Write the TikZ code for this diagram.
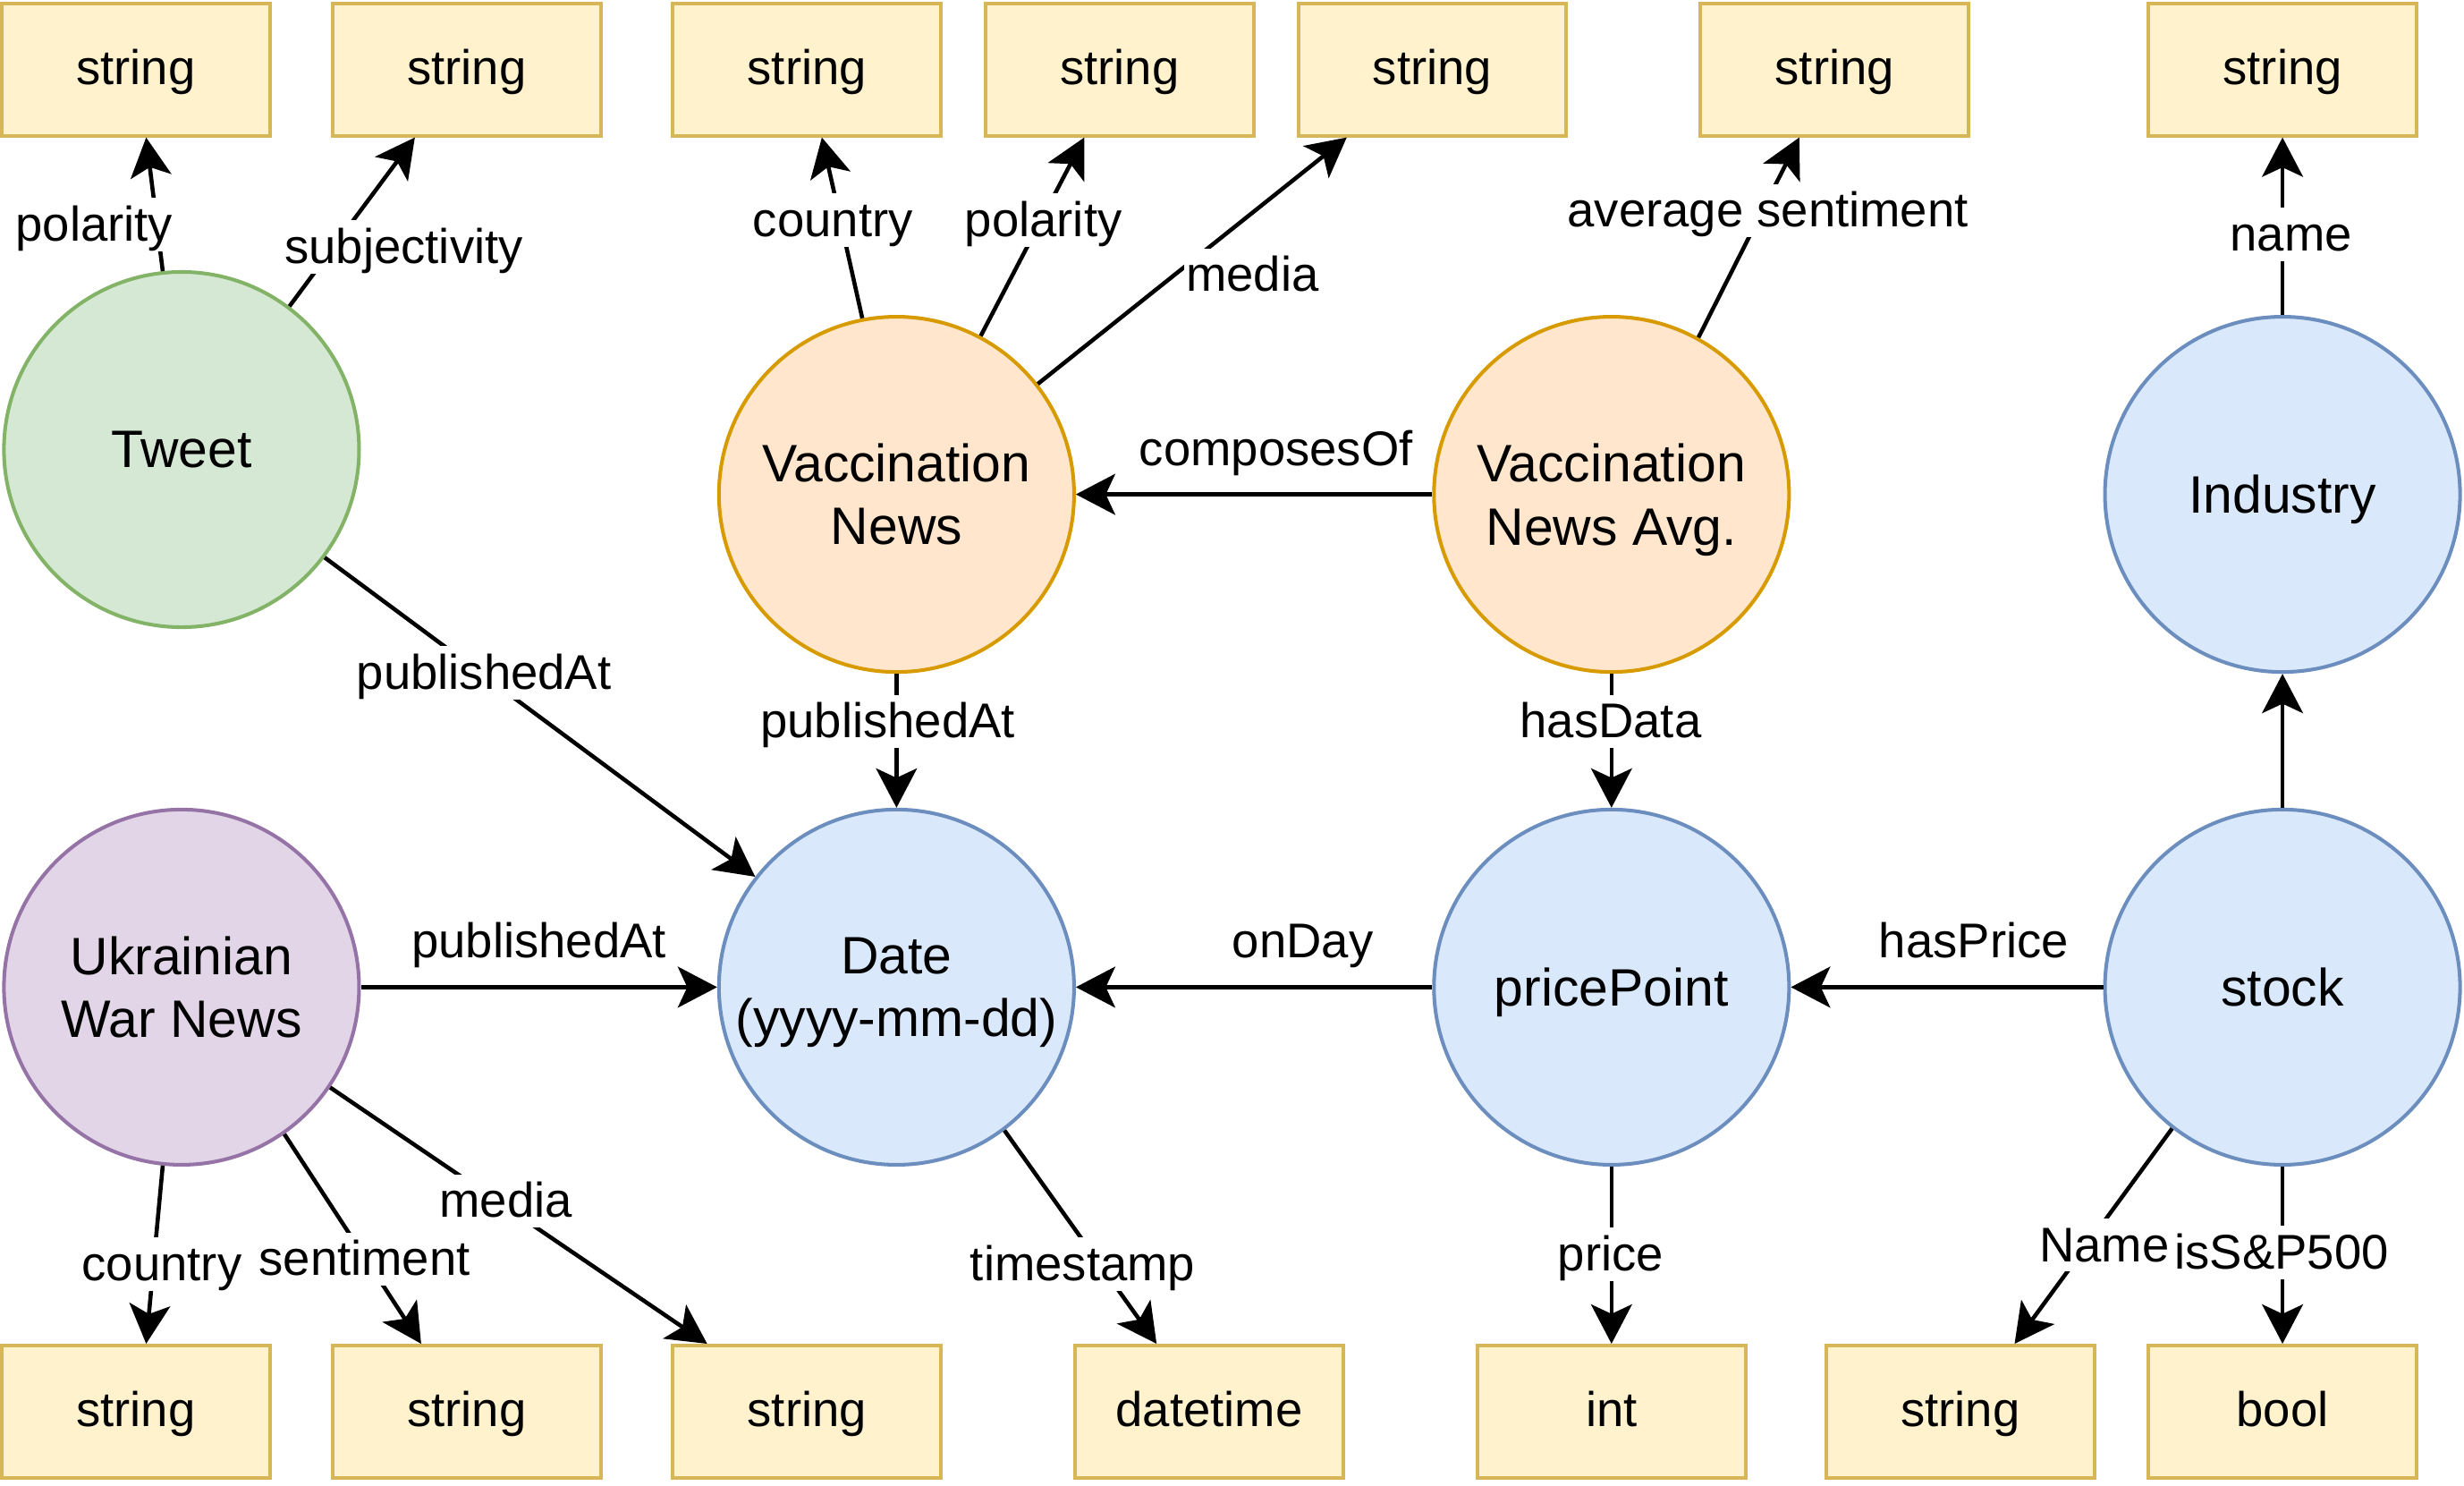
\documentclass[tikz,border=0pt]{standalone}
\usepackage{fontspec}
\setmainfont{Liberation Sans}
\usetikzlibrary{arrows.meta}
\definecolor{grnF}{HTML}{D5E8D4}\definecolor{grnD}{HTML}{82B366}
\definecolor{orgF}{HTML}{FFE6CC}\definecolor{orgD}{HTML}{D79B00}
\definecolor{bluF}{HTML}{DAE8FC}\definecolor{bluD}{HTML}{6C8EBF}
\definecolor{purF}{HTML}{E1D5E7}\definecolor{purD}{HTML}{9673A6}
\definecolor{boxF}{HTML}{FFF2CC}\definecolor{boxD}{HTML}{D6B656}
\newcommand\nodepthtxt[1]{\setbox0\hbox{#1}\dp0=0pt\box0}
\begin{document}
\begin{tikzpicture}[x=1pt,y=-1pt,
  circ/.style={circle, minimum size=226pt, line width=2.3pt, inner sep=0pt, align=center, font=\fontsize{33.5}{40}\selectfont},
  green/.style={circ, draw=grnD, fill=grnF},
  orange/.style={circ, draw=orgD, fill=orgF},
  blue/.style={circ, draw=bluD, fill=bluF},
  purple/.style={circ, draw=purD, fill=purF},
  typebox/.style={draw=boxD, fill=boxF, line width=2.3pt, minimum width=170.6pt, minimum height=84pt, inner sep=0pt, font=\fontsize{31}{37}\selectfont, text height=24pt, text depth=5.2pt},
  edge/.style={line width=2.6pt, -{Stealth[length=25pt,width=26pt,inset=6pt]}},
  lbl/.style={fill=white, inner sep=1.5pt, font=\fontsize{31}{37}\selectfont, text height=26pt, text depth=5pt}
]
\useasboundingbox (0,0) rectangle (1568,944.8);
% type boxes top
\node[typebox] (t1) at (86.5,44.3) {string};
\node[typebox] (t2) at (297,44.3) {string};
\node[typebox] (t3) at (513.5,44.3) {string};
\node[typebox] (t4) at (712.5,44.3) {string};
\node[typebox] (t5) at (911.5,44.3) {string};
\node[typebox] (t6) at (1167.5,44.3) {string};
\node[typebox] (t7) at (1452.5,44.3) {string};
% type boxes bottom
\node[typebox] (b1) at (86.5,898) {string};
\node[typebox] (b2) at (297,898) {string};
\node[typebox] (b3) at (513.5,898) {string};
\node[typebox] (b4) at (769.5,898) {datetime};
\node[typebox] (b5) at (1025.5,898) {int};
\node[typebox] (b6) at (1247.5,898) {string};
\node[typebox] (b7) at (1452.5,898) {bool};
% circles
\node[green] (tweet) at (115.5,286) {Tweet};
\node[orange] (vn) at (570.5,314.5) {Vaccination\\News};
\node[orange] (vna) at (1025.5,314.5) {Vaccination\\\nodepthtxt{News Avg.}};
\node[blue] (ind) at (1452.5,314.5) {\nodepthtxt{Industry}};
\node[purple] (uwn) at (115.5,628) {Ukrainian\\War News};
\node[blue] (date) at (570.5,628) {Date\\\nodepthtxt{(yyyy-mm-dd)}};
\node[blue] (pp) at (1025.5,628) {\nodepthtxt{pricePoint}};
\node[blue] (stock) at (1452.5,628) {stock};
% edges
\draw[edge] (tweet.96) -- ([xshift=6.5pt]t1.south);
\draw[edge] (tweet.53) -- ([xshift=-33pt]t2.south);
\draw[edge] (vn.101.5) -- ([xshift=9.5pt]t3.south);
\draw[edge] (vn.62.3) -- ([xshift=-22.5pt]t4.south);
\draw[edge] (vn.38.3) -- ([xshift=-54.5pt]t5.south);
\draw[edge] (vna.61.9) -- ([xshift=-22.5pt]t6.south);
\draw[edge] (ind.north) -- (t7.south);
\draw[edge] (vna.west) -- (vn.east);
\draw[edge] (tweet.-37) -- (date.142.3);
\draw[edge] (vn.south) -- (date.north);
\draw[edge] (vna.south) -- (pp.north);
\draw[edge] (stock.north) -- (ind.south);
\draw[edge] (uwn.east) -- (date.west);
\draw[edge] (pp.west) -- (date.east);
\draw[edge] (stock.west) -- (pp.east);
\draw[edge] (uwn.264) -- ([xshift=6.5pt]b1.north);
\draw[edge] (uwn.-55.7) -- ([xshift=-29pt]b2.north);
\draw[edge] (uwn.-34.7) -- ([xshift=-63.5pt]b3.north);
\draw[edge] (date.-53.5) -- ([xshift=-33.5pt]b4.north);
\draw[edge] (pp.south) -- (b5.north);
\draw[edge] (stock.232.7) -- ([xshift=34.5pt]b6.north);
\draw[edge] (stock.south) -- (b7.north);
% labels
\node[lbl] (l1) at (60,143) {polarity};
\node[lbl] (l2) at (257,157) {subjectivity};
\node[lbl] (l3) at (530,140) {country};
\node[lbl] (l4) at (664,140) {polarity};
\node[lbl] (l5) at (797,175) {media};
\node[lbl] (l6) at (1125,134) {average sentiment};
\node[lbl] (l7) at (1458,149) {name};
\node[lbl] (l8) at (812,286) {composesOf};
\node[lbl] (l9) at (308,428) {publishedAt};
\node[lbl] (l10) at (565,459) {publishedAt};
\node[lbl] (l11) at (1025,459) {hasData};
\node[lbl] (l12) at (343,599) {publishedAt};
\node[lbl] (l13) at (829,599) {onDay};
\node[lbl] (l14) at (1256,599) {hasPrice};
\node[lbl] (l15) at (322,764) {media};
\node[lbl] (l16) at (103,804) {country};
\node[lbl] (l17) at (232,801) {sentiment};
\node[lbl] (l18) at (689,804) {timestamp};
\node[lbl] (l19) at (1025,798) {price};
\node[lbl] (l20) at (1339,792) {Name};
\node[lbl] (l21) at (1452,797) {isS\&P500};
\end{tikzpicture}
\end{document}
